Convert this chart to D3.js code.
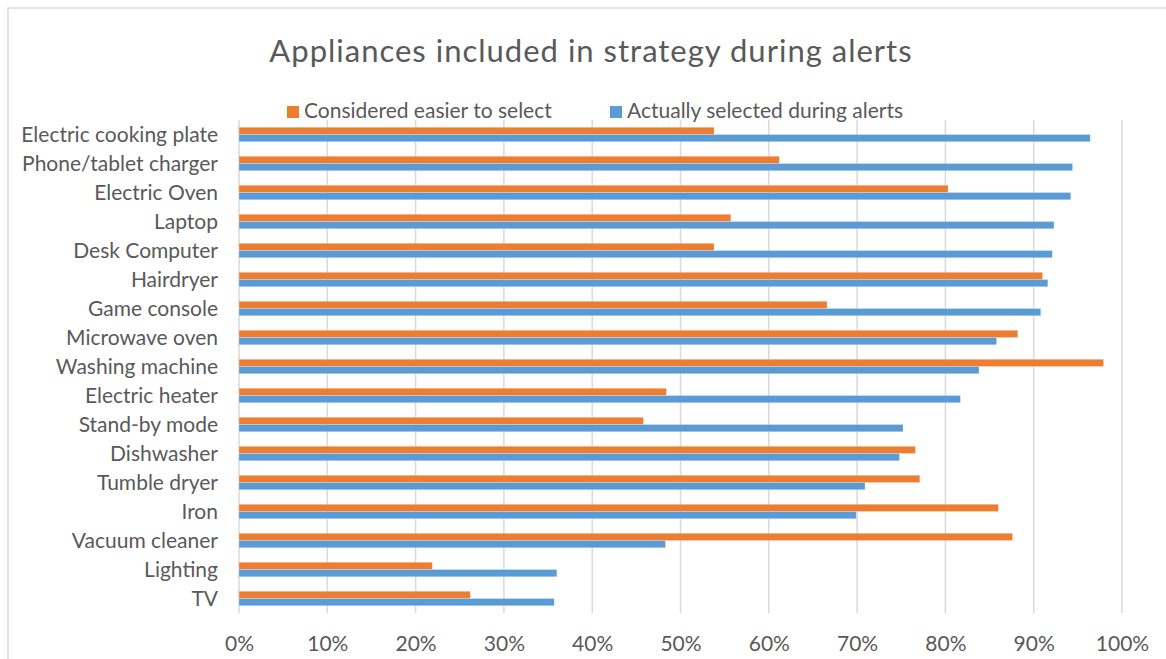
<!DOCTYPE html>
<html>
<head>
<meta charset="utf-8">
<script src="https://cdn.jsdelivr.net/npm/d3@7"></script>
<style>
  body { margin: 0; background: #fff; }
  text { font-family: Lato, "Open Sans", sans-serif; fill: #595959; }
</style>
</head>
<body>
<div id="chart"></div>
<script>
// chart data
const categories = ["Electric cooking plate", "Phone/tablet charger", "Electric Oven", "Laptop",
    "Desk Computer", "Hairdryer", "Game console", "Microwave oven", "Washing machine",
    "Electric heater", "Stand-by mode", "Dishwasher", "Tumble dryer", "Iron",
    "Vacuum cleaner", "Lighting", "TV"];
const easier = [53.8, 61.2, 80.3, 55.7, 53.8, 91.0, 66.6, 88.2, 97.9, 48.4, 45.8, 76.6, 77.1, 86.0, 87.6, 21.9, 26.2];
const selected = [96.4, 94.4, 94.2, 92.3, 92.1, 91.6, 90.8, 85.8, 83.8, 81.7, 75.2, 74.8, 70.9, 69.9, 48.3, 36.0, 35.7];
const seriesNames = ["Considered easier to select", "Actually selected during alerts"];
const seriesColors = ["#ED7D31", "#5B9BD5"];
const xTicks = [0, 10, 20, 30, 40, 50, 60, 70, 80, 90, 100];

const width = 1166, height = 659;
const plot = {left: 239, right: 1122, top: 120, bottom: 613};

const svg = d3.select("#chart")
    .append("svg")
    .attr("width", width)
    .attr("height", height);

// chart border
svg.append("rect")
    .attr("x", 8).attr("y", 8)
    .attr("width", width + 20).attr("height", height + 20)
    .attr("fill", "none")
    .attr("stroke", "#d9d9d9")
    .attr("stroke-width", 1.5);

var x = d3.scaleLinear()
    .domain([0, 100])
    .range([plot.left, plot.right]);

var y = d3.scaleBand()
    .domain(categories)
    .range([plot.top, plot.bottom])
    .paddingInner(0.5)
    .paddingOuter(0.25);

var ySub = d3.scaleBand()
    .domain([0, 1])
    .range([0, y.bandwidth()]);

// gridlines
svg.append("g")
    .selectAll("line")
    .data(xTicks)
    .enter()
    .append("line")
    .attr("x1", d => x(d)).attr("x2", d => x(d))
    .attr("y1", plot.top).attr("y2", plot.bottom)
    .attr("stroke", "#d9d9d9")
    .attr("stroke-width", 1.5);

// x axis labels
svg.append("g")
    .attr("transform", `translate(0, ${plot.bottom + 23})`)
    .call(d3.axisBottom(x).tickValues(xTicks).tickSize(0).tickPadding(0).tickFormat(d => d + "%"))
    .call(g => g.select(".domain").remove())
    .selectAll("text")
    .style("font-family", "Lato, 'Open Sans', sans-serif")
    .style("font-size", "21px")
    .attr("fill", "#595959");

// y axis labels
var cy = d3.scalePoint()
    .domain(categories)
    .range([plot.top + y.step() / 2, plot.bottom - y.step() / 2]);

svg.append("g")
    .attr("transform", `translate(${plot.left - 21}, 0)`)
    .call(d3.axisLeft(cy).tickSize(0).tickPadding(0))
    .call(g => g.select(".domain").remove())
    .selectAll("text")
    .style("font-family", "Lato, 'Open Sans', sans-serif")
    .style("font-size", "21px")
    .attr("fill", "#595959");

// bars
const rows = categories.map((c, i) => ({name: c, values: [easier[i], selected[i]]}));

var groups = svg.append("g")
    .selectAll("g")
    .data(rows)
    .enter()
    .append("g")
    .attr("transform", d => `translate(0, ${y(d.name)})`);

groups.selectAll("rect")
    .data(d => d.values.map((v, k) => ({k: k, v: v})))
    .enter()
    .append("rect")
    .attr("x", x(0))
    .attr("y", d => ySub(d.k))
    .attr("width", d => x(d.v) - x(0))
    .attr("height", ySub.bandwidth())
    .attr("fill", d => seriesColors[d.k])
    .attr("stroke", "#fff")
    .attr("stroke-opacity", 0.4)
    .attr("stroke-width", 0.6);

// title
svg.append("text")
    .attr("x", 591)
    .attr("y", 62)
    .style("text-anchor", "middle")
    .style("font-size", "31px")
    .style("letter-spacing", "1px")
    .text("Appliances included in strategy during alerts");

// legend
const legendX = [287, 610];
var legend = svg.append("g")
    .selectAll("g")
    .data(seriesNames)
    .enter()
    .append("g")
    .attr("transform", (d, i) => `translate(${legendX[i]}, 106)`);

legend.append("rect")
    .attr("width", 12)
    .attr("height", 12)
    .attr("fill", (d, i) => seriesColors[i]);

legend.append("text")
    .attr("x", 17)
    .attr("y", 12)
    .style("font-size", "21px")
    .text(d => d);
</script>
</body>
</html>
